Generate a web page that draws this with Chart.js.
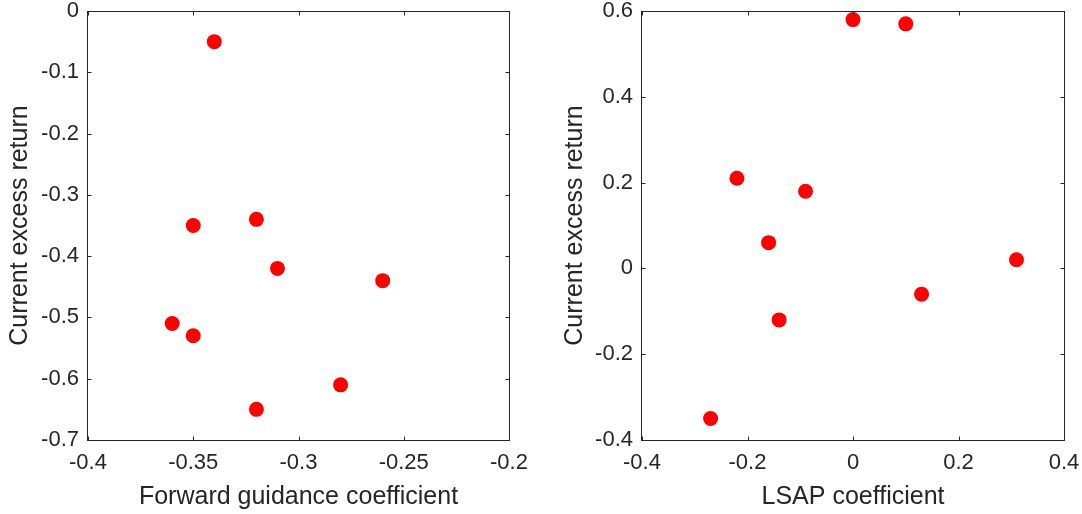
<!DOCTYPE html>
<html><head><meta charset="utf-8">
<script src="https://cdn.jsdelivr.net/npm/chart.js@4.4.1/dist/chart.umd.min.js"></script>
<style>
html,body{margin:0;padding:0;background:#fff;}
#wrap{position:relative;width:1082px;height:514px;}
.c{position:absolute;top:0;width:541px;height:514px;}
</style></head>
<body><div id="wrap">
<div class="c" style="left:0"><canvas id="c1" width="541" height="514"></canvas></div>
<div class="c" style="left:541px"><canvas id="c2" width="541" height="514"></canvas></div>
</div>
<script>
// Left panel: forward guidance
const fgX = [-0.34, -0.35, -0.32, -0.31, -0.26, -0.36, -0.35, -0.28, -0.32];
const fgY = [-0.05, -0.35, -0.34, -0.42, -0.44, -0.51, -0.53, -0.61, -0.65];
const fgXTicks = [-0.4, -0.35, -0.3, -0.25, -0.2];
const fgXLabels = ["-0.4", "-0.35", "-0.3", "-0.25", "-0.2"];
const fgYTicks = [-0.7, -0.6, -0.5, -0.4, -0.3, -0.2, -0.1, 0];
const fgYLabels = ["-0.7", "-0.6", "-0.5", "-0.4", "-0.3", "-0.2", "-0.1", "0"];
// Right panel: LSAP
const lsX = [0, 0.1, -0.22, -0.09, -0.16, 0.31, 0.13, -0.14, -0.27];
const lsY = [0.58, 0.57, 0.21, 0.18, 0.06, 0.02, -0.06, -0.12, -0.35];
const lsXTicks = [-0.4, -0.2, 0, 0.2, 0.4];
const lsXLabels = ["-0.4", "-0.2", "0", "0.2", "0.4"];
const lsYTicks = [-0.4, -0.2, 0, 0.2, 0.4, 0.6];
const lsYLabels = ["-0.4", "-0.2", "0", "0.2", "0.4", "0.6"];

const FONT = "'Liberation Sans', Arial, Helvetica, sans-serif";
const INK = '#262626';

const boxPlugin = {
  id: 'box',
  afterDraw(chart) {
    const {ctx, chartArea: a, scales} = chart;
    ctx.save();
    ctx.strokeStyle = INK;
    ctx.lineWidth = 1;
    const L = Math.round(a.left) - 0.5, R = Math.round(a.right) + 0.5;
    const T = Math.round(a.top) + 0.5, B = Math.round(a.bottom) + 0.5;
    ctx.strokeRect(L, T, R - L, B - T);
    const tl = 4;
    ctx.beginPath();
    scales.x.ticks.forEach(t => {
      const px = Math.round(scales.x.getPixelForValue(t.value)) + 0.5;
      ctx.moveTo(px, B); ctx.lineTo(px, B - tl);
      ctx.moveTo(px, T); ctx.lineTo(px, T + tl);
    });
    scales.y.ticks.forEach(t => {
      const py = Math.round(scales.y.getPixelForValue(t.value)) + 0.5;
      ctx.moveTo(L, py); ctx.lineTo(L + tl, py);
      ctx.moveTo(R, py); ctx.lineTo(R - tl, py);
    });
    ctx.stroke();
    ctx.restore();
  }
};

function makeChart(id, xs, ys, xT, xL, yT, yL, xTitle, yTitle, yWidth, padRight, yTitlePad) {
  const pts = xs.map((x, i) => ({x: x, y: ys[i]}));
  return new Chart(document.getElementById(id), {
    type: 'scatter',
    data: {datasets: [{data: pts, backgroundColor: '#ff0000', borderColor: '#ff0000', borderWidth: 0, pointRadius: 7.5, pointHoverRadius: 7.5}]},
    options: {
      responsive: false, animation: false, events: [],
      layout: {padding: {top: 11, right: padRight, bottom: 0, left: 0}},
      plugins: {legend: {display: false}, tooltip: {enabled: false}},
      scales: {
        x: {
          type: 'linear', min: xT[0], max: xT[xT.length - 1],
          afterBuildTicks: s => { s.ticks = xT.map(v => ({value: v})); },
          afterFit: s => { s.height = 74; s.paddingLeft = 0; s.paddingRight = 0; },
          grid: {display: false, drawTicks: false}, border: {display: false},
          ticks: {color: INK, padding: 10, font: {family: FONT, size: 22}, maxRotation: 0,
                  callback: (v, i) => xL[i]},
          title: {display: true, text: xTitle, color: INK, font: {family: FONT, size: 25}, padding: {top: 0, bottom: 2}}
        },
        y: {
          type: 'linear', min: yT[0], max: yT[yT.length - 1],
          afterBuildTicks: s => { s.ticks = yT.map(v => ({value: v})); },
          afterFit: s => { s.width = yWidth; s.paddingTop = 0; s.paddingBottom = 0; },
          grid: {display: false, drawTicks: false}, border: {display: false},
          ticks: {color: INK, padding: 9, font: {family: FONT, size: 22},
                  callback: (v, i) => yL[i]},
          title: {display: true, text: yTitle, color: INK, font: {family: FONT, size: 25}, padding: {top: yTitlePad, bottom: 0}}
        }
      }
    },
    plugins: [boxPlugin]
  });
}

makeChart('c1', fgX, fgY, fgXTicks, fgXLabels, fgYTicks, fgYLabels,
  'Forward guidance coefficient', 'Current excess return', 88, 32, 5);
makeChart('c2', lsX, lsY, lsXTicks, lsXLabels, lsYTicks, lsYLabels,
  'LSAP coefficient', 'Current excess return', 101, 18, 19);
</script>
</body></html>
